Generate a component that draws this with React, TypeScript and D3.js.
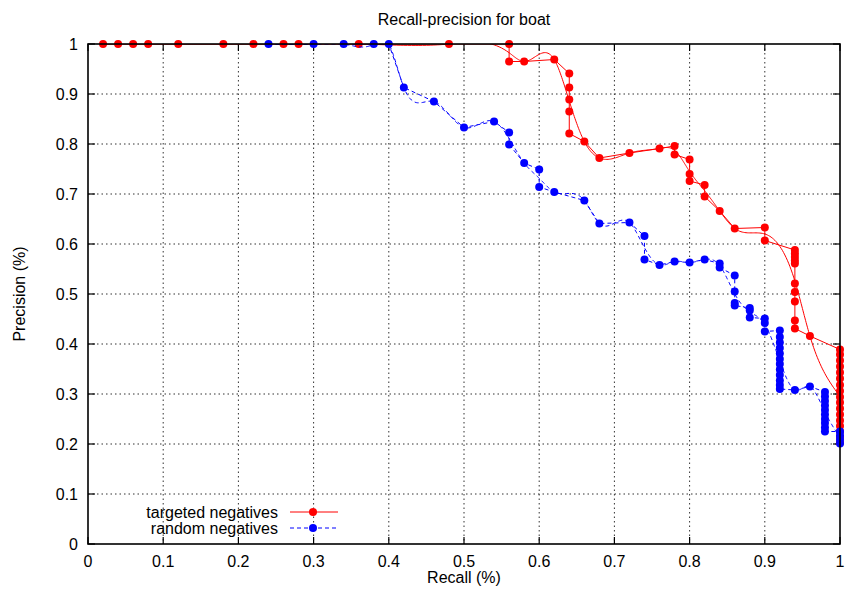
import React from "react";
import * as d3 from "d3";

// recall, precision pairs
const targetedNegatives: [number, number][] = [
  [0.02, 1], [0.04, 1], [0.06, 1], [0.08, 1], [0.12, 1], [0.18, 1], [0.22, 1],
  [0.26, 1], [0.28, 1], [0.36, 1], [0.48, 1], [0.56, 1], [0.56, 0.965],
  [0.58, 0.965], [0.62, 0.969], [0.64, 0.941], [0.64, 0.913], [0.64, 0.889],
  [0.64, 0.865], [0.64, 0.821], [0.66, 0.805], [0.68, 0.772], [0.72, 0.782],
  [0.76, 0.791], [0.78, 0.796], [0.78, 0.779], [0.8, 0.769], [0.8, 0.74],
  [0.8, 0.726], [0.82, 0.718], [0.82, 0.695], [0.84, 0.666], [0.86, 0.631],
  [0.9, 0.633], [0.9, 0.607], [0.94, 0.588], [0.94, 0.581], [0.94, 0.574],
  [0.94, 0.567], [0.94, 0.561], [0.94, 0.521], [0.94, 0.504], [0.94, 0.485],
  [0.94, 0.447], [0.94, 0.431], [0.96, 0.416], [1, 0.389], [1, 0.379],
  [1, 0.367], [1, 0.355], [1, 0.343], [1, 0.331], [1, 0.318], [1, 0.306],
  [1, 0.294], [1, 0.283], [1, 0.271], [1, 0.259], [1, 0.247], [1, 0.236],
  [1, 0.225], [1, 0.214], [1, 0.203],
];

const randomNegatives: [number, number][] = [
  [0.24, 1], [0.3, 1], [0.34, 1], [0.38, 1], [0.4, 1], [0.42, 0.913],
  [0.46, 0.885], [0.5, 0.833], [0.54, 0.845], [0.56, 0.823], [0.56, 0.799],
  [0.58, 0.762], [0.6, 0.749], [0.6, 0.714], [0.62, 0.704], [0.66, 0.687],
  [0.68, 0.641], [0.72, 0.643], [0.74, 0.616], [0.74, 0.569], [0.76, 0.558],
  [0.78, 0.565], [0.8, 0.563], [0.82, 0.569], [0.84, 0.561], [0.84, 0.553],
  [0.86, 0.537], [0.86, 0.505], [0.86, 0.482], [0.86, 0.477], [0.88, 0.472],
  [0.88, 0.467], [0.88, 0.453], [0.9, 0.451], [0.9, 0.442], [0.9, 0.425],
  [0.92, 0.427], [0.92, 0.414], [0.92, 0.403], [0.92, 0.392], [0.92, 0.381],
  [0.92, 0.37], [0.92, 0.36], [0.92, 0.349], [0.92, 0.338], [0.92, 0.327],
  [0.92, 0.318], [0.92, 0.31], [0.94, 0.308], [0.96, 0.315], [0.98, 0.304],
  [0.98, 0.295], [0.98, 0.286], [0.98, 0.277], [0.98, 0.268], [0.98, 0.259],
  [0.98, 0.25], [0.98, 0.242], [0.98, 0.233], [0.98, 0.225], [1, 0.225],
  [1, 0.217], [1, 0.209], [1, 0.201],
];

const ticks = [0, 0.1, 0.2, 0.3, 0.4, 0.5, 0.6, 0.7, 0.8, 0.9, 1];
const tickLabels = ["0", "0.1", "0.2", "0.3", "0.4", "0.5", "0.6", "0.7", "0.8", "0.9", "1"];

const series = [
  { name: "targeted negatives", data: targetedNegatives, color: "#ff0000", dash: undefined },
  { name: "random negatives", data: randomNegatives, color: "#0000ff", dash: "4,3" },
];

const W = 845;
const H = 595;
const left = 88, right = 840, top = 44, bottom = 544;
const font = "'Liberation Sans', Arial, Helvetica, sans-serif";
const fs = 16;

// gnuplot-style "smooth csplines": unique x (mean y), natural cubic spline y(x)
function csplines(data: [number, number][]) {
  const groups = d3.rollups(data, (v) => d3.mean(v, (d) => d[1]) as number, (d) => d[0]).sort((a, b) => a[0] - b[0]);
  const xs = groups.map((g) => g[0]);
  const ys = groups.map((g) => g[1]);
  const n = xs.length;
  const h = d3.range(n - 1).map((i) => xs[i + 1] - xs[i]);
  const m = new Array(n).fill(0);
  // tridiagonal solve for second derivatives
  const a: number[] = [], b: number[] = [], c: number[] = [], r: number[] = [];
  for (let i = 1; i < n - 1; i++) {
    a.push(h[i - 1]);
    b.push(2 * (h[i - 1] + h[i]));
    c.push(h[i]);
    r.push(6 * ((ys[i + 1] - ys[i]) / h[i] - (ys[i] - ys[i - 1]) / h[i - 1]));
  }
  const k = b.length;
  for (let i = 1; i < k; i++) {
    const w = a[i] / b[i - 1];
    b[i] -= w * c[i - 1];
    r[i] -= w * r[i - 1];
  }
  const sol = new Array(k).fill(0);
  for (let i = k - 1; i >= 0; i--) sol[i] = (r[i] - (i < k - 1 ? c[i] * sol[i + 1] : 0)) / b[i];
  for (let i = 0; i < k; i++) m[i + 1] = sol[i];
  const pts: [number, number][] = [];
  for (let i = 0; i < n - 1; i++) {
    const steps = 24;
    for (let s = 0; s < steps; s++) {
      const t = s / steps;
      const x = xs[i] + t * h[i];
      const A = 1 - t, B = t;
      const y = A * ys[i] + B * ys[i + 1] + ((A * A * A - A) * m[i] + (B * B * B - B) * m[i + 1]) * (h[i] * h[i]) / 6;
      pts.push([x, y]);
    }
  }
  pts.push([xs[n - 1], ys[n - 1]]);
  return pts;
}

export default function App() {
  const x = d3.scaleLinear().domain([0, 1]).range([left, right]);
  const y = d3.scaleLinear().domain([0, 1]).range([bottom, top]);
  const line = d3.line<[number, number]>().x((d) => x(d[0])).y((d) => y(d[1]));

  return (
    <svg width={W} height={H} style={{ position: "absolute", left: 0, top: 0, background: "#fff" }} fontFamily={font}>
      <defs>
        <clipPath id="plotArea">
          <rect x={left} y={top} width={right - left} height={bottom - top} />
        </clipPath>
      </defs>
      <rect width={W} height={H} fill="#fff" />
      {/* grid */}
      {ticks.slice(1, -1).map((t) => (
        <g key={"g" + t} stroke="#333" strokeWidth={1} strokeDasharray="1.5,3">
          <line x1={x(t)} x2={x(t)} y1={top} y2={bottom} />
          <line x1={left} x2={right} y1={y(t)} y2={y(t)} />
        </g>
      ))}
      {/* ticks, mirrored */}
      {ticks.map((t) => (
        <g key={"t" + t} stroke="#000" strokeWidth={1.2}>
          <line x1={x(t)} x2={x(t)} y1={bottom} y2={bottom - 7} />
          <line x1={x(t)} x2={x(t)} y1={top} y2={top + 7} />
          <line x1={left} x2={left + 7} y1={y(t)} y2={y(t)} />
          <line x1={right} x2={right - 7} y1={y(t)} y2={y(t)} />
        </g>
      ))}
      {ticks.map((t, i) => (
        <text key={"xl" + t} x={x(t)} y={567} fontSize={fs} textAnchor="middle" fill="#000">
          {tickLabels[i]}
        </text>
      ))}
      {ticks.map((t, i) => (
        <text key={"yl" + t} x={78} y={y(t) + 6} fontSize={fs} textAnchor="end" fill="#000">
          {tickLabels[i]}
        </text>
      ))}
      {/* series */}
      {series.map((s) => (
        <g key={s.name}>
          <g clipPath="url(#plotArea)" fill="none" stroke={s.color} strokeWidth={1} strokeDasharray={s.dash}>
            <path d={line(s.data) ?? ""} />
            <path d={line(csplines(s.data)) ?? ""} />
          </g>
          <g fill={s.color}>
            {s.data.map((d, i) => (
              <circle key={i} cx={x(d[0])} cy={y(d[1])} r={4} />
            ))}
          </g>
        </g>
      ))}
      <rect x={left} y={top} width={right - left} height={bottom - top} fill="none" stroke="#000" strokeWidth={1.6} />
      {/* legend */}
      {series.map((s, i) => (
        <g key={"lg" + s.name} transform={`translate(0, ${512 + i * 16})`}>
          <text x={278} y={6} fontSize={fs} textAnchor="end" fill="#000">{s.name}</text>
          <line x1={290} x2={338} y1={0} y2={0} stroke={s.color} strokeWidth={1} strokeDasharray={s.dash} />
          <circle cx={313} cy={0} r={4} fill={s.color} />
        </g>
      ))}
      <text x={464} y={25} fontSize={fs} textAnchor="middle" fill="#000">Recall-precision for boat</text>
      <text x={464} y={583} fontSize={fs} textAnchor="middle" fill="#000">Recall (%)</text>
      <text transform={`translate(25, ${(top + bottom) / 2}) rotate(-90)`} fontSize={fs} textAnchor="middle" fill="#000">
        Precision (%)
      </text>
    </svg>
  );
}
